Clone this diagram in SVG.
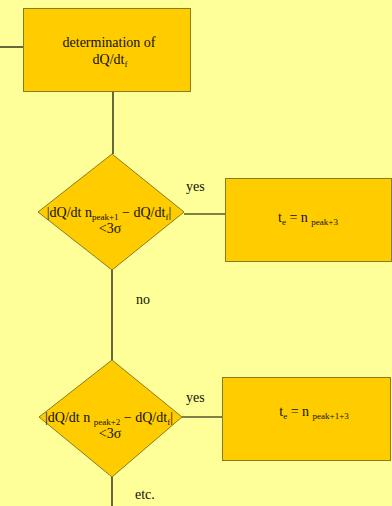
<svg xmlns="http://www.w3.org/2000/svg" width="392" height="506" viewBox="0 0 392 506">
  <style>
    .shape { fill: #FFCC00; stroke: #8C7A1E; stroke-width: 1; }
    .wire { stroke: #000000; stroke-width: 1.2; fill: none; }
    text { font-family: "Liberation Serif", "Times New Roman", serif; font-size: 14px; fill: #111100; }
    .sub { font-size: 9px; }
    .mid { text-anchor: middle; }
  </style>
  <rect width="392" height="506" fill="#FFFF99"/>

  <g id="connectors">
    <line class="wire" x1="0" y1="47" x2="23" y2="47"/>
    <line class="wire" x1="113" y1="92" x2="113" y2="154"/>
    <line class="wire" x1="184" y1="214" x2="225" y2="214"/>
    <line class="wire" x1="112" y1="270" x2="112" y2="360"/>
    <line class="wire" x1="182" y1="417" x2="222" y2="417"/>
    <line class="wire" x1="112" y1="477" x2="112" y2="506"/>
    <text x="186" y="191">yes</text>
    <text x="136" y="304">no</text>
    <text x="186" y="402">yes</text>
    <text x="135" y="499">etc.</text>
  </g>

  <g id="determination">
    <rect class="shape" x="23.5" y="8.5" width="167" height="83"/>
    <text class="mid" x="109" y="47">determination of</text>
    <text class="mid" x="110" y="64">dQ/dt<tspan class="sub" dy="2.5">f</tspan></text>
  </g>

  <g id="check1">
    <polygon class="shape" points="112,154 184,212 112,270 38,212"/>
    <text class="mid" x="109" y="217">|dQ/dt n<tspan class="sub" dy="2.5">peak+1</tspan><tspan dy="-2.5"> − dQ/dt</tspan><tspan class="sub" dy="2.5">f</tspan><tspan dy="-2.5">|</tspan></text>
    <text class="mid" x="110" y="233">&lt;3σ</text>
  </g>

  <g id="result1">
    <rect class="shape" x="225.5" y="178.5" width="166" height="83"/>
    <text class="mid" x="308" y="222">t<tspan class="sub" dy="2.5">e</tspan><tspan dy="-2.5"> = n </tspan><tspan class="sub" dy="2.5">peak+3</tspan></text>
  </g>

  <g id="check2">
    <polygon class="shape" points="112,360 182,417 112,477 39,417"/>
    <text class="mid" x="109" y="422">|dQ/dt n <tspan class="sub" dy="2.5">peak+2</tspan><tspan dy="-2.5"> − dQ/dt</tspan><tspan class="sub" dy="2.5">f</tspan><tspan dy="-2.5">|</tspan></text>
    <text class="mid" x="110" y="438">&lt;3σ</text>
  </g>

  <g id="result2">
    <rect class="shape" x="222.5" y="377.5" width="168" height="83"/>
    <text class="mid" x="314" y="416">t<tspan class="sub" dy="2.5">e</tspan><tspan dy="-2.5"> = n </tspan><tspan class="sub" dy="2.5">peak+1+3</tspan></text>
  </g>
</svg>
